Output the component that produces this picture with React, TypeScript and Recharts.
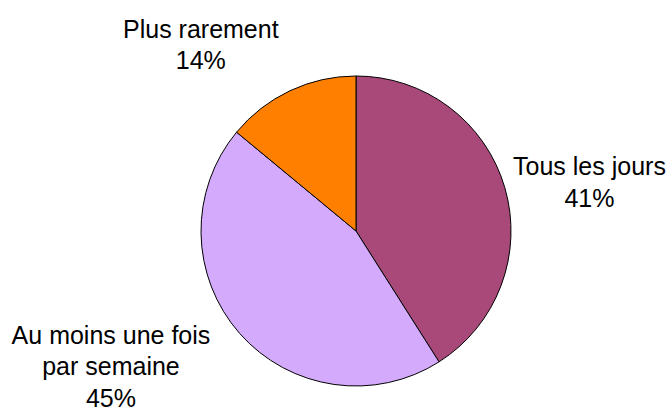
import { PieChart, Pie, Cell } from "recharts";

// Fréquence d'usage — camembert, libellés à l'extérieur (nom + pourcentage).
const CATEGORIES = ["Tous les jours", "Au moins une fois par semaine", "Plus rarement"];
const VALUES = [41, 45, 14];
// line breaks used in the outside labels
const LABEL_LINES = [["Tous les jours"], ["Au moins une fois", "par semaine"], ["Plus rarement"]];

const COLORS = ["#A8497A", "#D4AAFC", "#FF8000"];
// small nudges from the radial anchor so labels sit like the original
const LABEL_NUDGE: [number, number][] = [
  [3, 11],
  [-65, -46],
  [-53, 24],
];
const LABEL_RADIUS = 240;
const LINE_GAP = 31.5;
const RAD = Math.PI / 180;

const data = CATEGORIES.map((name, i) => ({ name, value: VALUES[i] }));

function renderLabel(props: any) {
  const { cx, cy, midAngle, index, value } = props;
  const x = cx + LABEL_RADIUS * Math.cos(-midAngle * RAD) + LABEL_NUDGE[index][0];
  const y = cy + LABEL_RADIUS * Math.sin(-midAngle * RAD) + LABEL_NUDGE[index][1];
  const lines = [...LABEL_LINES[index], `${value}%`];
  return (
    <text
      key={`lbl-${index}`}
      x={x}
      y={y}
      textAnchor="middle"
      fill="#000"
      fontSize={25}
      fontFamily="'Liberation Sans', Arial, sans-serif"
    >
      {lines.map((l, k) => (
        <tspan key={k} x={x} dy={k === 0 ? 0 : LINE_GAP}>
          {l}
        </tspan>
      ))}
    </text>
  );
}

export default function App() {
  return (
    <div style={{ position: "absolute", left: 0, top: 0, background: "#fff" }}>
      <PieChart width={669} height={411} margin={{ top: 0, right: 0, bottom: 0, left: 0 }}>
        <Pie
          data={data}
          dataKey="value"
          nameKey="name"
          cx={356}
          cy={231}
          outerRadius={155}
          startAngle={90}
          endAngle={-270}
          stroke="#000"
          strokeWidth={1}
          label={renderLabel}
          labelLine={false}
          isAnimationActive={false}
        >
          {data.map((_, i) => (
            <Cell key={i} fill={COLORS[i]} />
          ))}
        </Pie>
      </PieChart>
    </div>
  );
}
